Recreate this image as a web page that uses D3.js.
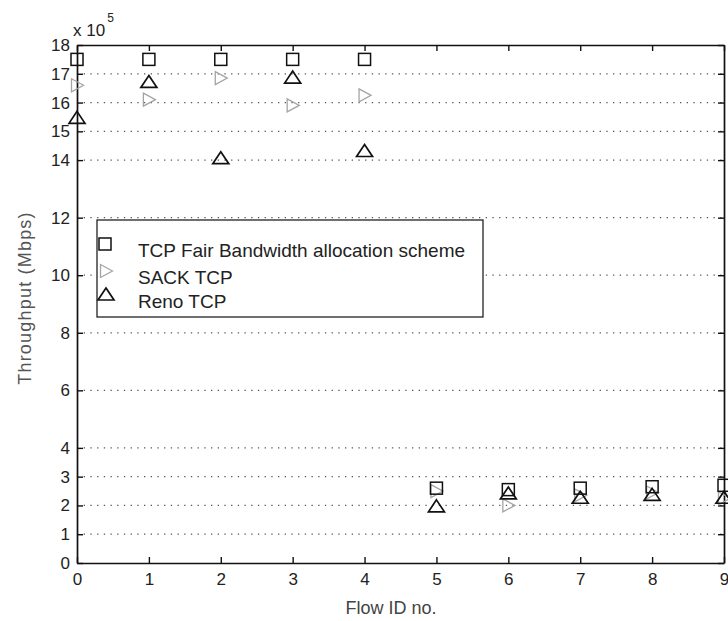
<!DOCTYPE html>
<html>
<head>
<meta charset="utf-8">
<script src="https://cdn.jsdelivr.net/npm/d3@7"></script>
<style>
  body { margin: 0; background: #fff; }
  text { font-family: "Liberation Sans", Arial, sans-serif; }
</style>
</head>
<body>
<svg id="chart" width="728" height="621"></svg>
<script>
// Daten (Werte in 10^5)
const flowIds = [0, 1, 2, 3, 4, 5, 6, 7, 8, 9];
const fairValues = [17.5, 17.5, 17.5, 17.5, 17.5, 2.6, 2.55, 2.6, 2.65, 2.7];
const sackValues = [16.6, 16.1, 16.85, 15.9, 16.25, 2.5, 2.0, 2.35, 2.45, 2.25];
const renoValues = [15.45, 16.7, 14.05, 16.85, 14.3, 1.95, 2.4, 2.25, 2.35, 2.25];
const yTicks = [0, 1, 2, 3, 4, 6, 8, 10, 12, 14, 15, 16, 17, 18];
const xTicks = [0, 1, 2, 3, 4, 5, 6, 7, 8, 9];
const legendLabels = ['TCP Fair Bandwidth allocation scheme', 'SACK TCP', 'Reno TCP'];

const svg = d3.select('#chart');
const W = 728, H = 621;
const m = { left: 77, right: 4, top: 45, bottom: 58 };
const iw = W - m.left - m.right;
const ih = H - m.top - m.bottom;

const x = d3.scaleLinear().domain([0, 9]).range([0, iw]);
const y = d3.scaleLinear().domain([0, 18]).range([ih, 0]);

const g = svg.append('g').attr('transform', `translate(${m.left},${m.top})`);

// Gitterlinien (gepunktet, nur horizontal)
g.append('g').selectAll('line.grid')
  .data(yTicks.filter(d => d > 0 && d < 18))
  .join('line')
  .attr('class', 'grid')
  .attr('x1', 0).attr('x2', iw)
  .attr('y1', d => y(d)).attr('y2', d => y(d))
  .attr('stroke', '#555')
  .attr('stroke-width', 1.3)
  .attr('stroke-dasharray', '1.3,5.4');

// Achsen
const tickLen = 6;
const axB = g.append('g').attr('transform', `translate(0,${ih})`)
  .call(d3.axisBottom(x).tickValues(xTicks).tickFormat(d3.format('d')).tickSizeInner(-tickLen).tickSizeOuter(0).tickPadding(10));
const axT = g.append('g')
  .call(d3.axisTop(x).tickValues(xTicks).tickFormat('').tickSizeInner(-tickLen).tickSizeOuter(0));
const axL = g.append('g')
  .call(d3.axisLeft(y).tickValues(yTicks).tickFormat(d3.format('d')).tickSizeInner(-tickLen).tickSizeOuter(0).tickPadding(7));
const axR = g.append('g').attr('transform', `translate(${iw},0)`)
  .call(d3.axisRight(y).tickValues(yTicks).tickFormat('').tickSizeInner(-tickLen).tickSizeOuter(0));

[axB, axT, axL, axR].forEach(a => {
  a.select('.domain').attr('stroke', '#111').attr('stroke-width', 1.7);
  a.selectAll('.tick line').attr('stroke', '#111').attr('stroke-width', 1.4);
  a.selectAll('.tick text').attr('fill', '#222').style('font-size', '17px');
});

// Marker
const sq = 12;
const triUp = 'M0,-7L8,5L-8,5Z';
const triRight = 'M6.5,0L-5.5,-6.5L-5.5,6.5Z';

const zip = vals => flowIds.map((id, i) => ({ id, v: vals[i] }));

const marks = g.append('g');
marks.append('g').selectAll('path.sack').data(zip(sackValues)).join('path')
  .attr('class', 'sack')
  .attr('transform', d => `translate(${x(d.id)},${y(d.v)})`)
  .attr('d', triRight)
  .attr('fill', 'none').attr('stroke', '#a5a5a5').attr('stroke-width', 1.3);
marks.append('g').selectAll('path.reno').data(zip(renoValues)).join('path')
  .attr('class', 'reno')
  .attr('transform', d => `translate(${x(d.id)},${y(d.v)})`)
  .attr('d', triUp)
  .attr('fill', 'none').attr('stroke', '#111').attr('stroke-width', 1.7);
marks.append('g').selectAll('rect.fair').data(zip(fairValues)).join('rect')
  .attr('class', 'fair')
  .attr('x', d => x(d.id) - sq / 2).attr('y', d => y(d.v) - sq / 2)
  .attr('width', sq).attr('height', sq)
  .attr('fill', 'none').attr('stroke', '#111').attr('stroke-width', 1.5);

// Legende
const lg = svg.append('g').attr('transform', 'translate(97,220)');
lg.append('rect').attr('width', 386).attr('height', 97)
  .attr('fill', '#fff').attr('stroke', '#222').attr('stroke-width', 1.3);
const rowsY = [24, 51, 75];
lg.append('rect').attr('x', 8 - sq / 2).attr('y', rowsY[0] - sq / 2).attr('width', sq).attr('height', sq)
  .attr('fill', 'none').attr('stroke', '#111').attr('stroke-width', 1.5);
lg.append('path').attr('transform', `translate(9,${rowsY[1]})`).attr('d', triRight)
  .attr('fill', 'none').attr('stroke', '#a5a5a5').attr('stroke-width', 1.3);
lg.append('path').attr('transform', `translate(9,${rowsY[2]})`).attr('d', triUp)
  .attr('fill', 'none').attr('stroke', '#111').attr('stroke-width', 1.7);
lg.selectAll('text.lab').data(legendLabels).join('text')
  .attr('class', 'lab')
  .attr('x', 41).attr('y', (d, i) => rowsY[i] + 13)
  .attr('fill', '#222').style('font-size', '19px')
  .text(d => d);

// Beschriftungen
svg.append('text')
  .attr('transform', `translate(31,298) rotate(-90)`)
  .attr('text-anchor', 'middle').attr('fill', '#555')
  .style('font-size', '18px').style('letter-spacing', '1.2px')
  .text('Throughput (Mbps)');
svg.append('text')
  .attr('x', 391).attr('y', 614)
  .attr('text-anchor', 'middle').attr('fill', '#444').style('font-size', '18px')
  .text('Flow ID no.');
const mult = svg.append('text').attr('x', 73).attr('y', 36).attr('fill', '#222').style('font-size', '17px');
mult.append('tspan').text('x 10');
mult.append('tspan').attr('dy', -14).attr('dx', 2).style('font-size', '12px').text('5');
</script>
</body>
</html>
